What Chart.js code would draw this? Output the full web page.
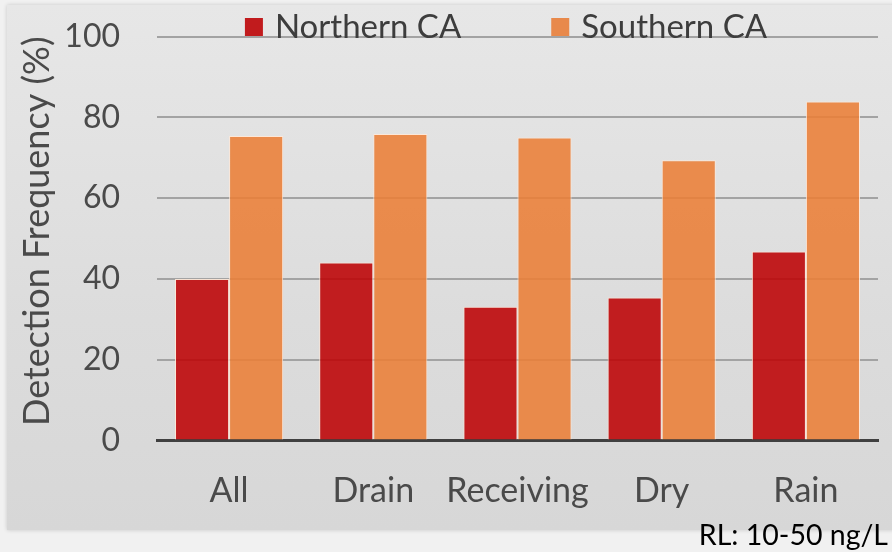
<!DOCTYPE html>
<html>
<head>
<meta charset="utf-8">
<script src="https://cdn.jsdelivr.net/npm/chart.js@4/dist/chart.umd.min.js"></script>
<style>
  html, body { margin: 0; padding: 0; background: #f1f1f1; }
  #wrap { position: relative; width: 892px; height: 552px; overflow: hidden; }
  #panel {
    position: absolute; left: 7px; top: 5px; width: 895px; height: 525px;
    background: linear-gradient(to bottom, #e7e7e7 0%, #dcdcdc 60%, #d7d7d7 100%);
    box-shadow: 0 0 4px rgba(0,0,0,0.18);
  }
  #chart { position: absolute; left: 0; top: 0; }
  #note {
    position: absolute; right: 4px; top: 517px;
    font-family: Lato, "Open Sans", sans-serif; font-size: 28.5px; color: #000;
    white-space: nowrap;
  }
</style>
</head>
<body>
<div id="wrap">
  <div id="panel"></div>
  <canvas id="chart" width="892" height="552"></canvas>
  <div id="note">RL: 10-50 ng/L</div>
</div>
<script>
// Detection frequency by region and sample type
const categories = ['All', 'Drain', 'Receiving', 'Dry', 'Rain'];
const northernCA = [40.0, 44.1, 33.1, 35.4, 46.8];
const southernCA = [75.4, 75.9, 75.0, 69.4, 83.9];
const yTicks = [0, 20, 40, 60, 80, 100];

const FONT = 'Lato, "Open Sans", sans-serif';
const TEXT = '#4a4a4a';

// Legend row drawn above the plot, built from the dataset labels and colours
const topLegend = {
  id: 'topLegend',
  afterDraw(chart) {
    const ctx = chart.ctx;
    const box = 18, textGap = 12, itemGap = 90, y = 27;
    ctx.save();
    ctx.font = '33px ' + FONT;
    ctx.textBaseline = 'middle';
    const items = chart.data.datasets.map(ds => ({
      label: ds.label, color: ds.legendColor,
      w: box + textGap + ctx.measureText(ds.label).width
    }));
    const total = items.reduce((s, it) => s + it.w, 0) + itemGap * (items.length - 1);
    let x = 506 - total / 2;
    items.forEach(it => {
      ctx.fillStyle = it.color;
      ctx.fillRect(x, y - box / 2, box, box);
      ctx.fillStyle = '#3d3d3d';
      ctx.fillText(it.label, x + box + textGap, y);
      x += it.w + itemGap;
    });
    ctx.restore();
  }
};

new Chart(document.getElementById('chart'), {
  type: 'bar',
  data: {
    labels: categories,
    datasets: [
      {
        label: 'Northern CA',
        data: northernCA,
        backgroundColor: 'rgba(189,2,4,0.88)',
        legendColor: '#c11b1d',
        borderColor: 'rgba(255,232,215,0.9)',
        borderWidth: 1
      },
      {
        label: 'Southern CA',
        data: southernCA,
        backgroundColor: 'rgba(234,126,55,0.88)',
        legendColor: '#e8894b',
        borderColor: 'rgba(255,232,215,0.9)',
        borderWidth: 1
      }
    ]
  },
  options: {
    responsive: false,
    animation: false,
    layout: { padding: { top: 36.5, right: 14, bottom: 43, left: 0 } },
    datasets: { bar: { categoryPercentage: 0.75, barPercentage: 1.0 } },
    plugins: {
      legend: { display: false },
      tooltip: { enabled: false }
    },
    scales: {
      x: {
        afterFit(scale) { scale.height = 68.4; },
        grid: { display: false, drawTicks: false },
        border: { display: true, color: '#404040', width: 3 },
        ticks: {
          color: TEXT, font: { family: FONT, size: 34 }, padding: 30,
          maxRotation: 0, minRotation: 0, autoSkip: false
        }
      },
      y: {
        min: 0, max: 100,
        afterFit(scale) {
          scale.width = 157;
          scale.paddingTop = 0;
          scale.paddingBottom = 0;
        },
        afterBuildTicks(scale) { scale.ticks = yTicks.map(v => ({ value: v })); },
        grid: {
          drawTicks: false,
          color: ctx => (ctx.tick && ctx.tick.value === 0) ? 'rgba(0,0,0,0)' : '#a3a3a3',
          lineWidth: 2
        },
        border: { display: false },
        ticks: { color: TEXT, font: { family: FONT, size: 32 }, padding: 37 },
        title: {
          display: true,
          align: 'end',
          text: 'Detection Frequency (%)',
          color: TEXT,
          font: { family: FONT, size: 36 },
          padding: { top: 16, bottom: 5 }
        }
      }
    }
  },
  plugins: [topLegend]
});
</script>
</body>
</html>
